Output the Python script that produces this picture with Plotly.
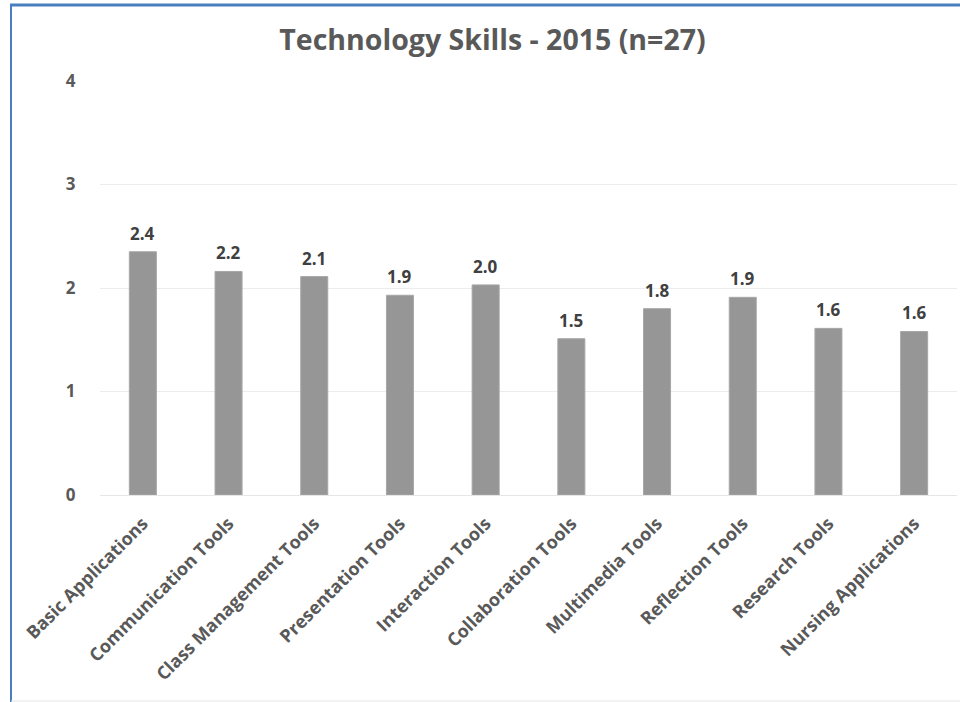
import plotly.graph_objects as go

categories = ["Basic Applications", "Communication Tools", "Class Management Tools",
              "Presentation Tools", "Interaction Tools", "Collaboration Tools",
              "Multimedia Tools", "Reflection Tools", "Research Tools", "Nursing Applications"]
values = [2.35, 2.16, 2.11, 1.93, 2.03, 1.51, 1.80, 1.91, 1.61, 1.58]
y_ticks = [0, 1, 2, 3, 4]

W, H = 960, 702
L, R, T, B = 100, 3, 81, 207
pw, ph = W - L - R, H - T - B

def px(x):
    return (x - L) / pw

def py(y):
    return (H - B - y) / ph

font_fam = "Open Sans, Liberation Sans, sans-serif"
txt_col = "#595959"

fig = go.Figure(go.Bar(
    x=categories, y=values,
    marker=dict(color="#969696", line=dict(color="#a6a6a6", width=1)),
))

annotations = [
    dict(x=c, y=v, xref="x", yref="y", text=f"{v:.1f}", showarrow=False,
         yanchor="bottom", yshift=5,
         font=dict(family=font_fam, size=17, color="#404040", weight="bold"))
    for c, v in zip(categories, values)
]

fig.update_layout(
    width=W, height=H,
    margin=dict(l=L, r=R, t=T, b=B),
    paper_bgcolor="white", plot_bgcolor="white",
    bargap=0.685,
    showlegend=False,
    annotations=annotations,
    title=dict(text="Technology Skills - 2015 (n=27)", x=492.5 / W, xanchor="center",
               y=1 - 40 / H, yanchor="middle",
               font=dict(family=font_fam, size=28.5, color=txt_col, weight="bold")),
    xaxis=dict(tickangle=-45,
               tickfont=dict(family=font_fam, size=18, color=txt_col, weight="bold"),
               showgrid=False, showline=True, linecolor="#e6e6e6", linewidth=1,
               ticks="outside", ticklen=10, tickcolor="rgba(0,0,0,0)"),
    yaxis=dict(range=[0, 4], tickvals=y_ticks, showgrid=True, gridcolor="#ececec",
               gridwidth=1, zeroline=False,
               tickfont=dict(family=font_fam, size=17, color=txt_col, weight="bold"),
               ticks="outside", ticklen=20, tickcolor="rgba(0,0,0,0)"),
    shapes=[
        dict(type="line", xref="paper", yref="paper", x0=px(11), x1=px(11), y0=py(4), y1=py(702),
             line=dict(color="#4a7ebf", width=2)),
        dict(type="line", xref="paper", yref="paper", x0=px(10), x1=px(960), y0=py(5), y1=py(5),
             line=dict(color="#4a7ebf", width=3)),
        dict(type="line", xref="paper", yref="paper", x0=px(11), x1=px(960), y0=py(701), y1=py(701),
             line=dict(color="#e6e6e6", width=1)),
    ],
)

fig.write_html("out.html", config={"displayModeBar": False},
               post_script="document.body.style.margin='0px';document.documentElement.style.overflow='hidden';window.scrollTo(0,0);")
